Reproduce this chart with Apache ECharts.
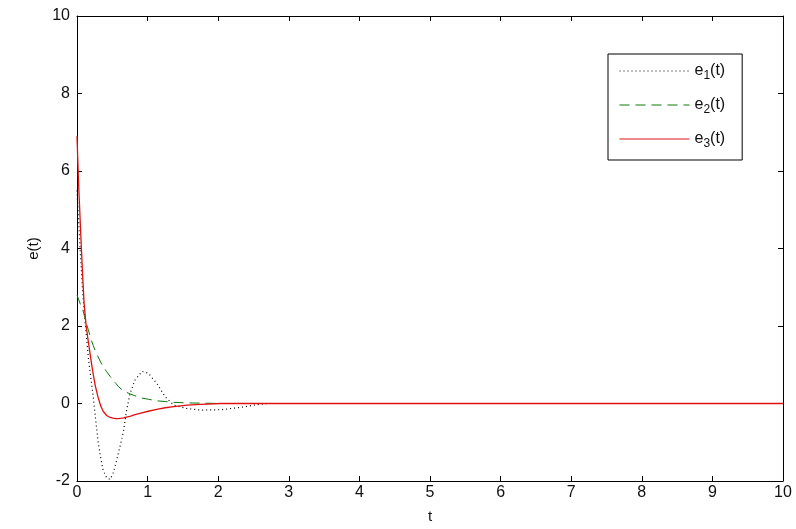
<!DOCTYPE html>
<html>
<head>
<meta charset="utf-8">
<script src="https://cdn.jsdelivr.net/npm/echarts@6/dist/echarts.min.js"></script>
<style>
html,body{margin:0;padding:0;background:#fff;}
#main{width:796px;height:529px;}
</style>
</head>
<body>
<div id="main"></div>
<script>
// time samples (shared by all three curves)
var tValues = [0, 0.02, 0.05, 0.08, 0.1, 0.13, 0.16, 0.2, 0.23, 0.26, 0.3, 0.34, 0.37, 0.42, 0.47, 0.51,
	0.55, 0.59, 0.63, 0.66, 0.7, 0.75, 0.82, 0.92, 1.01, 1.13, 1.25, 1.37, 1.56, 1.75, 2.04, 2.32,
	2.51, 2.7, 3, 10];
var e1Values = [5.5, 4.8, 3.8, 2.9, 2.4, 1.8, 1.2, 0.6, 0.17, -0.35, -1.0, -1.45, -1.72, -1.92, -1.96, -1.8,
	-1.55, -1.25, -0.95, -0.7, -0.2, 0.25, 0.6, 0.83, 0.78, 0.52, 0.17, -0.04, -0.13, -0.17, -0.16, -0.1,
	-0.04, 0, 0, 0];
var e2Values = [2.8, 2.7, 2.55, 2.43, 2.3, 2.1, 1.9, 1.65, 1.5, 1.35, 1.2, 1.05, 0.95, 0.82, 0.7, 0.6,
	0.52, 0.43, 0.37, 0.33, 0.29, 0.25, 0.2, 0.14, 0.11, 0.07, 0.05, 0.03, 0.015, 0.01, 0, 0,
	0, 0, 0, 0];
var e3Values = [6.9, 5.8, 4.5, 3.3, 2.6, 2.0, 1.6, 1.1, 0.75, 0.45, 0.15, -0.08, -0.2, -0.31, -0.36, -0.38,
	-0.39, -0.39, -0.38, -0.37, -0.35, -0.33, -0.29, -0.24, -0.2, -0.15, -0.11, -0.08, -0.04, -0.02, 0, 0,
	0, 0, 0, 0];
var seriesNames = ['e1', 'e2', 'e3'];

function pairs(ys){
	var out = [];
	for (var i = 0; i < tValues.length; i++) out.push([tValues[i], ys[i]]);
	return out;
}

var font = 'Liberation Sans';
var myChart = echarts.init(document.getElementById('main'));
var axisCommon = {
	type: 'value',
	axisLine: {show: true, onZero: false, lineStyle: {color: '#000', width: 1}},
	axisTick: {show: true, inside: true, length: 5, lineStyle: {color: '#000'}},
	splitLine: {show: false},
	axisLabel: {color: '#111', fontFamily: font, fontSize: 16}
};
option = {
	animation: false,
	backgroundColor: '#fff',
	grid: {left: 77, right: 13, top: 16, bottom: 47, containLabel: false},
	legend: {
		orient: 'vertical',
		left: 608, top: 54,
		padding: [9, 17, 10, 11],
		itemGap: 15,
		itemWidth: 70, itemHeight: 18,
		borderColor: '#000', borderWidth: 1,
		backgroundColor: '#fff',
		align: 'left',
		data: seriesNames,
		itemStyle: {opacity: 0},
		lineStyle: {width: 1},
		textStyle: {
			fontFamily: font, fontSize: 16, color: '#111',
			rich: {
				b: {fontFamily: font, fontSize: 16, color: '#111'},
				s: {fontFamily: font, fontSize: 12, color: '#111', verticalAlign: 'bottom', padding: [10, 0, 0, 0]}
			}
		},
		formatter: function(name){ return '{b|e}{s|' + name.slice(1) + '}{b|(t)}'; }
	},
	xAxis: [
		Object.assign({}, axisCommon, {
			min: 0, max: 10, interval: 1, position: 'bottom',
			name: 't', nameLocation: 'middle', nameGap: 28,
			nameTextStyle: {fontFamily: font, fontSize: 15, color: '#111'},
			axisLabel: {color: '#111', fontFamily: font, fontSize: 16, margin: 4}
		}),
		Object.assign({}, axisCommon, {
			min: 0, max: 10, interval: 1, position: 'top',
			axisLabel: {show: false}
		})
	],
	yAxis: [
		Object.assign({}, axisCommon, {
			min: -2, max: 10, interval: 2, position: 'left',
			name: 'e(t)', nameLocation: 'middle', nameGap: 32, nameRotate: 90,
			nameTextStyle: {fontFamily: font, fontSize: 15, color: '#111'},
			axisLabel: {color: '#111', fontFamily: font, fontSize: 16, margin: 7}
		}),
		Object.assign({}, axisCommon, {
			min: -2, max: 10, interval: 2, position: 'right',
			axisLabel: {show: false}
		})
	],
	series: [
		{name: 'e1', type: 'line', data: pairs(e1Values), symbol: 'none',
			lineStyle: {color: '#000', width: 1.2, type: [1, 3]}, itemStyle: {color: '#000'}},
		{name: 'e2', type: 'line', data: pairs(e2Values), symbol: 'none',
			lineStyle: {color: '#0a7a0a', width: 1, type: [10, 6]}, itemStyle: {color: '#0a7a0a'}},
		{name: 'e3', type: 'line', data: pairs(e3Values), symbol: 'none',
			lineStyle: {color: '#e01010', width: 1.3, type: 'solid'}, itemStyle: {color: '#e01010'}}
	]
};
myChart.setOption(option);
</script>
</body>
</html>
